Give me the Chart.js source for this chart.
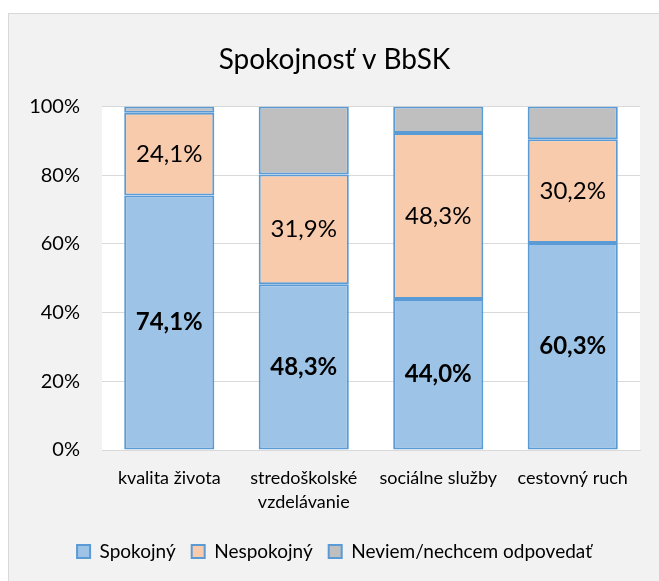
<!DOCTYPE html>
<html>
<head>
<meta charset="utf-8">
<script src="https://cdn.jsdelivr.net/npm/chart.js@4"></script>
<style>
body{margin:0;background:#fff;}
#box{position:absolute;left:8px;top:13px;width:650px;height:567px;background:#f2f2f2;border-top:1px solid #d9d9d9;border-left:1px solid #d9d9d9;}
</style>
</head>
<body>
<div id="box"><canvas id="chart" width="650" height="567"></canvas></div>
<script>
const kategorie = ["kvalita života", ["stredoškolské", "vzdelávanie"], "sociálne služby", "cestovný ruch"];
const spokojny = [74.1, 48.3, 44.0, 60.3];
const nespokojny = [24.1, 31.9, 48.3, 30.2];
const neviem = [1.8, 19.8, 7.7, 9.5];
const yTicks = [0, 20, 40, 60, 80, 100];

const FONT = "Lato, 'Open Sans', sans-serif";

// biele pozadie grafu
const pozadie = {
  id: "pozadie",
  beforeDraw(chart) {
    const a = chart.chartArea;
    chart.ctx.save();
    chart.ctx.fillStyle = "#fff";
    chart.ctx.fillRect(a.left, a.top, a.right - a.left, a.bottom - a.top);
    chart.ctx.restore();
  }
};

// popisky hodnot v stlpcoch
const popisky = {
  id: "popisky",
  afterDatasetsDraw(chart) {
    const ctx = chart.ctx;
    ctx.save();
    ctx.textAlign = "center";
    ctx.textBaseline = "middle";
    ctx.fillStyle = "#000";
    [0, 1].forEach(di => {
      const meta = chart.getDatasetMeta(di);
      ctx.font = (di === 0 ? "bold " : "") + "24px " + FONT;
      meta.data.forEach((bar, i) => {
        const v = chart.data.datasets[di].data[i];
        const y = (bar.y + bar.base) / 2;
        ctx.fillText(v.toFixed(1).replace(".", ",") + "%", bar.x, y);
      });
    });
    ctx.restore();
  }
};

const ramik = "#5b9bd5";
new Chart(document.getElementById("chart"), {
  type: "bar",
  data: {
    labels: kategorie,
    datasets: [
      { label: "Spokojný", data: spokojny, backgroundColor: "#9dc3e6", borderColor: ramik, borderWidth: 2, borderSkipped: false },
      { label: "Nespokojný", data: nespokojny, backgroundColor: "#f8cbad", borderColor: ramik, borderWidth: 2, borderSkipped: false },
      { label: "Neviem/nechcem odpovedať", data: neviem, backgroundColor: "#bfbfbf", borderColor: ramik, borderWidth: 2, borderSkipped: false }
    ]
  },
  options: {
    responsive: false,
    animation: false,
    categoryPercentage: 1,
    barPercentage: 0.67,
    layout: { padding: { left: 20, right: 19, bottom: 10, top: 0 } },
    plugins: {
      title: {
        display: true,
        text: "Spokojnosť v BbSK",
        color: "#000",
        font: { family: FONT, size: 28, weight: "normal" },
        padding: { top: 29, bottom: 30 }
      },
      legend: {
        position: "bottom",
        labels: {
          color: "#000",
          font: { family: FONT, size: 19 },
          boxWidth: 13,
          boxHeight: 13,
          padding: 16
        }
      },
      tooltip: { enabled: false }
    },
    scales: {
      x: {
        stacked: true,
        grid: { display: false },
        border: { color: "#d9d9d9" },
        ticks: { color: "#000", font: { family: FONT, size: 18, lineHeight: 1.333 }, padding: 8, maxRotation: 0, autoSkip: false },
        afterFit(s) { s.height = 76; }
      },
      y: {
        stacked: true,
        min: 0,
        max: 100,
        afterBuildTicks(s) { s.ticks = yTicks.map(v => ({ value: v })); },
        grid: { color: "#d9d9d9", drawTicks: false },
        border: { display: false },
        ticks: { color: "#000", font: { family: FONT, size: 20 }, padding: 22, callback: v => v + "%" },
        afterFit(s) { s.width = 73; }
      }
    }
  },
  plugins: [pozadie, popisky]
});
</script>
</body>
</html>
